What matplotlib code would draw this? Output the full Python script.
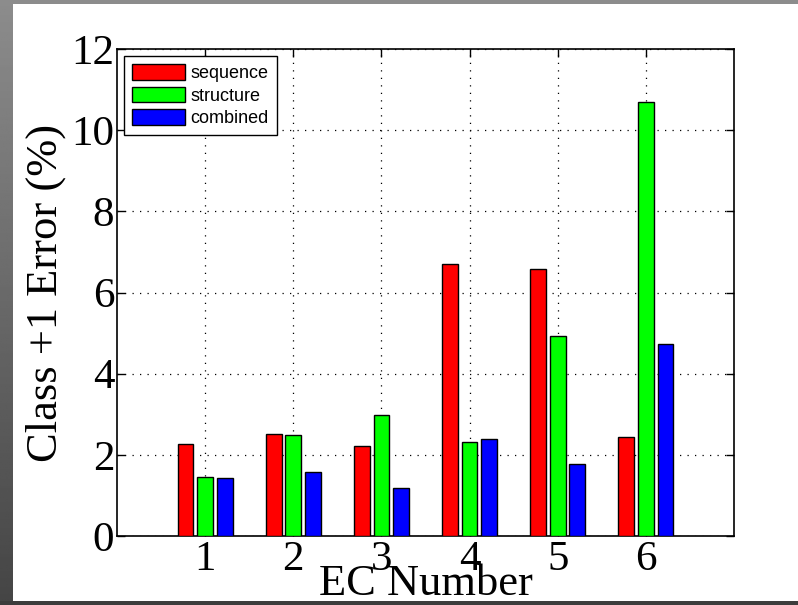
import numpy as np
import matplotlib
matplotlib.use("Agg")
import matplotlib.pyplot as plt
from matplotlib.patches import Rectangle

ec_numbers = [1, 2, 3, 4, 5, 6]
sequence = [2.26, 2.52, 2.21, 6.69, 6.57, 2.44]
structure = [1.46, 2.49, 2.97, 2.32, 4.92, 10.70]
combined = [1.43, 1.58, 1.19, 2.40, 1.78, 4.73]
series_names = ["sequence", "structure", "combined"]
series_colors = ["#ff0000", "#00ff00", "#0000ff"]
y_ticks = [0, 2, 4, 6, 8, 10, 12]

W, H = 798, 605
fig = plt.figure(figsize=(W / 100, H / 100), dpi=100)
fig.patch.set_facecolor("white")

# frame: left gradient strip, top and bottom strips
gax = fig.add_axes([0, 0, 13 / W, 1], zorder=-5)
grad = np.linspace(0.55, 0.27, 256).reshape(-1, 1)
gax.imshow(grad, aspect="auto", cmap="gray", vmin=0, vmax=1, extent=[0, 1, 0, 1])
gax.set_axis_off()
fig.patches.append(Rectangle((0, 1 - 4 / H), 1, 4 / H, transform=fig.transFigure,
                             facecolor="#8c8c8c", edgecolor="none", zorder=10))
fig.patches.append(Rectangle((0, 0), 1, 4.5 / H, transform=fig.transFigure,
                             facecolor="#3c3c3c", edgecolor="none", zorder=10))

ax = fig.add_axes([117 / W, (H - 536) / H, (734 - 117) / W, (536 - 49) / H])
x = np.array(ec_numbers, dtype=float)
step = 2.0 / 9.0
bw = step * 0.8
for i, (vals, name, col) in enumerate(zip([sequence, structure, combined], series_names, series_colors)):
    ax.bar(x + (i - 1) * step, vals, width=bw, color=col, edgecolor="black",
           linewidth=1.0, label=name, zorder=3)

ax.set_xlim(0, 7)
ax.set_ylim(0, 12)
ax.set_xticks(ec_numbers)
ax.set_yticks(y_ticks)
serif = ["Liberation Serif", "DejaVu Serif"]
ax.set_xticklabels([str(v) for v in ec_numbers], fontsize=31, family=serif)
ax.set_yticklabels([str(v) for v in y_ticks], fontsize=31, family=serif)
ax.tick_params(direction="in", length=6, width=1, top=True, right=True, pad=2)
ax.tick_params(axis="x", pad=3)
ax.grid(True, linestyle=(0, (1, 5)), color="black", linewidth=0.9, zorder=0)
ax.set_axisbelow(True)
for s in ax.spines.values():
    s.set_linewidth(1.2)

ax.set_xlabel("EC Number", fontsize=32, family=serif)
ax.xaxis.set_label_coords(0.5, -0.058)
ax.set_ylabel("Class +1 Error (%)", fontsize=32, family=serif)
ax.yaxis.set_label_coords(-0.082, 0.5)

leg = ax.legend(loc="upper left", prop={"family": "Liberation Sans", "size": 13},
                frameon=True, fancybox=False, edgecolor="black", framealpha=1,
                handlelength=2.9, handleheight=0.92, borderaxespad=0.4,
                labelspacing=0.26, handletextpad=0.3, borderpad=0.45)
leg.get_frame().set_linewidth(1.0)

fig.savefig("out.png", dpi=100)
